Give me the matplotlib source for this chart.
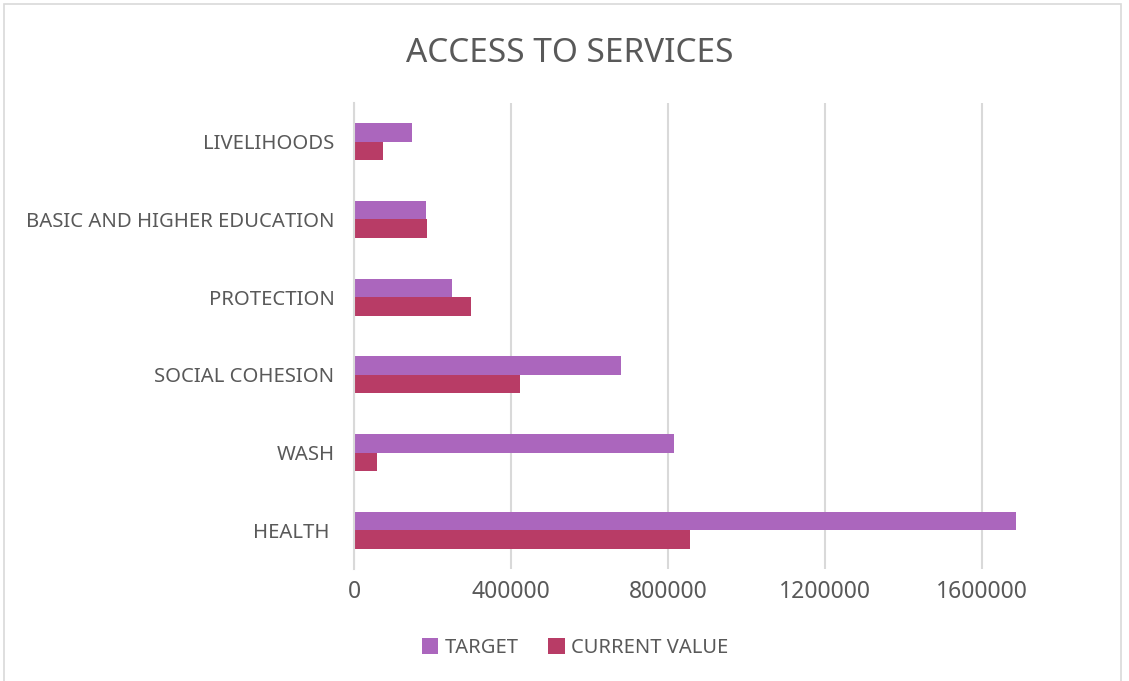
import numpy as np
import matplotlib.pyplot as plt
from matplotlib.patches import Rectangle

# categories from bottom to top
categorias = ['HEALTH ', 'WASH', 'SOCIAL COHESION', 'PROTECTION',
              'BASIC AND HIGHER EDUCATION', 'LIVELIHOODS']
target = [1687000, 816000, 681000, 249000, 184000, 147000]
current_value = [857000, 59000, 424000, 299000, 186000, 73000]
ticks_x = [0, 400000, 800000, 1200000, 1600000]

color_target = '#AB66BD'
color_current = '#B83C66'
color_texto = '#595959'

plt.rcParams['font.family'] = ['Noto Sans', 'DejaVu Sans']

fig = plt.figure(figsize=(11.29, 6.81), dpi=100)
ax = fig.add_axes([354 / 1129, 1 - 569 / 681, (1060 - 354) / 1129, (569 - 103) / 681])

y = np.arange(len(categorias))
alto = 0.238
ax.barh(y + alto / 2, target, height=alto, color=color_target, label='TARGET', zorder=3)
ax.barh(y - alto / 2, current_value, height=alto, color=color_current, label='CURRENT VALUE', zorder=3)

ax.set_xlim(0, 1800000)
ax.set_ylim(-0.5, len(categorias) - 0.5)
ax.set_xticks(ticks_x)
ax.set_xticklabels([str(t) for t in ticks_x], fontsize=16.5, color=color_texto)
ax.set_yticks(y)
ax.set_yticklabels(categorias, fontsize=14.6, color=color_texto)
ax.tick_params(axis='both', length=0)
ax.tick_params(axis='y', pad=14)
ax.tick_params(axis='x', pad=8)

ax.grid(axis='x', color='#D9D9D9', linewidth=1.5, zorder=0)
for lado in ['top', 'right', 'bottom']:
    ax.spines[lado].set_visible(False)
ax.spines['left'].set_color('#D9D9D9')
ax.spines['left'].set_linewidth(1.5)
ax.spines['left'].set_zorder(4)

fig.text(570 / 1129, 1 - 54 / 681, 'ACCESS TO SERVICES', ha='center', va='center',
         fontsize=24, color=color_texto, family=['Liberation Sans Narrow', 'Noto Sans'])

fig.legend(loc='center', bbox_to_anchor=(575 / 1129, 1 - 648 / 681), ncol=2, frameon=False,
           fontsize=14.5, labelcolor=color_texto, handlelength=0.8, handleheight=0.8,
           handletextpad=0.3, columnspacing=1.5)

# borde del area del grafico
fig.patches.append(Rectangle((4 / 1129, -0.01), 1117 / 1129, 1 - 4 / 681 + 0.01,
                             transform=fig.transFigure, fill=False,
                             edgecolor='#D9D9D9', linewidth=1.2))

fig.savefig('out.png', dpi=100, facecolor='white')
